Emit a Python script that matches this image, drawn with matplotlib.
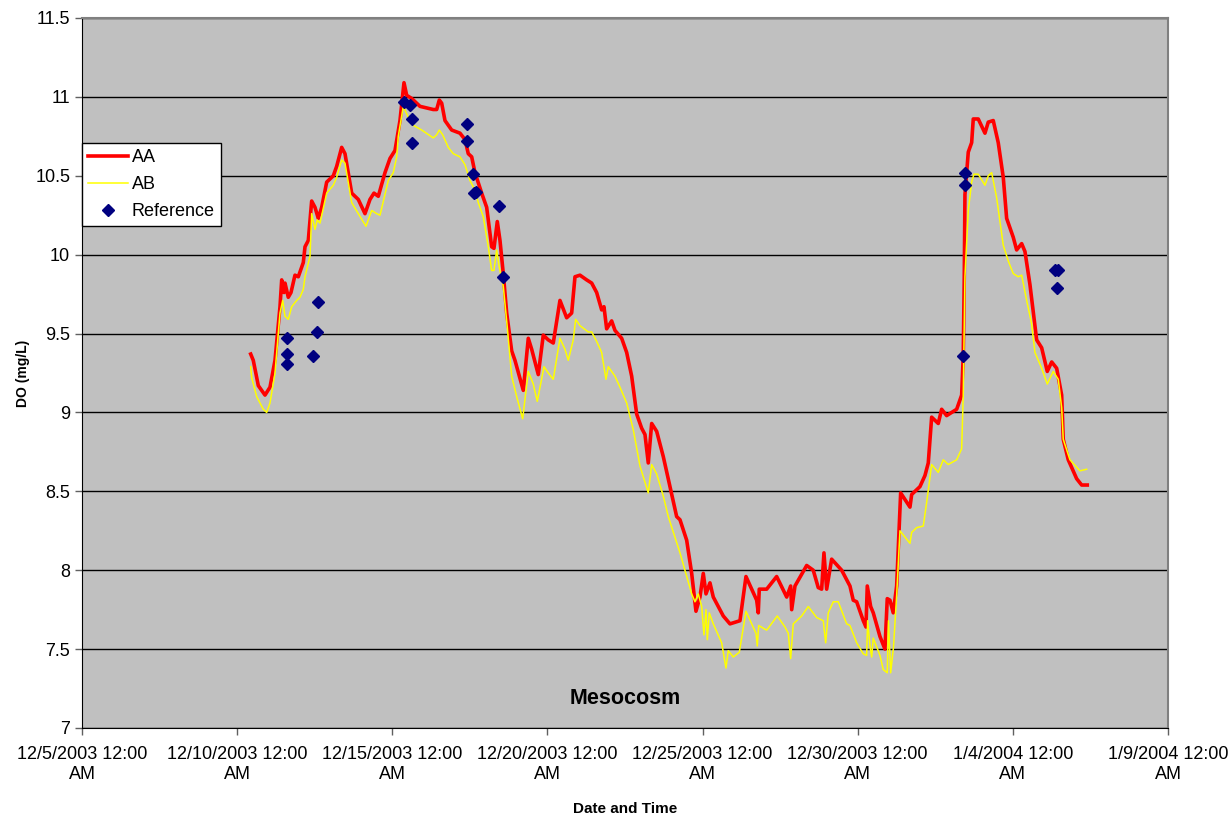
import numpy as np
import pandas as pd
import matplotlib
matplotlib.use('Agg')
import matplotlib.pyplot as plt

# days after 12/5/2003 00:00 and dissolved oxygen (mg/L)
aa_day = [5.437, 5.520, 5.682, 5.898, 6.059, 6.220, 6.381, 6.436, 6.510, 6.542, 6.648, 6.735, 6.864, 6.971,
          7.132, 7.187, 7.293, 7.402, 7.509, 7.615, 7.725, 7.886, 8.099, 8.208, 8.369, 8.476, 8.692, 8.904,
          9.120, 9.281, 9.410, 9.549, 9.765, 9.926, 10.087, 10.248, 10.377, 10.464, 10.625, 10.893, 11.321,
          11.431, 11.515, 11.592, 11.698, 11.914, 12.182, 12.343, 12.449, 12.559, 12.665, 12.881, 13.042,
          13.203, 13.277, 13.384, 13.471, 13.577, 13.687, 13.848, 13.954, 14.222, 14.383, 14.493, 14.705,
          14.866, 15.027, 15.188, 15.404, 15.620, 15.781, 15.888, 16.049, 16.265, 16.426, 16.587, 16.748,
          16.822, 16.909, 17.070, 17.177, 17.393, 17.554, 17.715, 17.876, 18.037, 18.144, 18.250, 18.360,
          18.521, 18.734, 18.949, 19.165, 19.272, 19.488, 19.649, 19.787, 19.916, 20.023, 20.110, 20.238,
          20.345, 20.667, 20.883, 21.205, 21.399, 21.582, 21.744, 21.795, 21.827, 22.066, 22.388, 22.711,
          22.839, 22.872, 22.978, 23.355, 23.567, 23.728, 23.838, 23.912, 23.999, 24.160, 24.483, 24.750,
          24.856, 24.966, 25.179, 25.266, 25.308, 25.417, 25.501, 25.717, 25.878, 25.952, 26.039, 26.145,
          26.255, 26.384, 26.684, 26.739, 27.006, 27.167, 27.274, 27.383, 27.596, 27.705, 27.866, 28.189,
          28.350, 28.401, 28.434, 28.456, 28.563, 28.672, 28.724, 28.885, 29.101, 29.207, 29.368, 29.529,
          29.691, 29.800, 30.013, 30.122, 30.284, 30.390, 30.551, 30.767, 30.928, 31.109, 31.251, 31.412,
          31.573, 31.624, 31.785, 32.056, 32.217, 32.398]
aa_do = [9.37, 9.33, 9.17, 9.11, 9.16, 9.33, 9.67, 9.84, 9.76, 9.82, 9.73, 9.76, 9.87, 9.86,
         9.95, 10.05, 10.09, 10.34, 10.30, 10.23, 10.30, 10.46, 10.50, 10.56, 10.68, 10.64, 10.39, 10.35,
         10.26, 10.35, 10.39, 10.37, 10.52, 10.61, 10.66, 10.85, 11.09, 11.01, 10.99, 10.94, 10.92,
         10.92, 10.98, 10.96, 10.85, 10.79, 10.77, 10.73, 10.64, 10.62, 10.52, 10.39, 10.30,
         10.05, 10.04, 10.21, 10.09, 9.88, 9.63, 9.39, 9.33, 9.14, 9.47, 9.40, 9.24,
         9.49, 9.46, 9.44, 9.71, 9.60, 9.63, 9.86, 9.87, 9.84, 9.82, 9.76, 9.65,
         9.67, 9.53, 9.58, 9.52, 9.47, 9.38, 9.23, 8.99, 8.90, 8.86, 8.68, 8.93,
         8.88, 8.72, 8.53, 8.34, 8.32, 8.19, 7.98, 7.74, 7.83, 7.98, 7.85, 7.92,
         7.83, 7.71, 7.66, 7.68, 7.96, 7.88, 7.81, 7.73, 7.88, 7.88, 7.96, 7.83,
         7.90, 7.75, 7.90, 8.03, 8.00, 7.89, 7.88, 8.11, 7.88, 8.07, 8.00, 7.90,
         7.81, 7.80, 7.68, 7.64, 7.90, 7.77, 7.73, 7.58, 7.50, 7.82, 7.81, 7.73,
         7.90, 8.49, 8.40, 8.48, 8.53, 8.60, 8.68, 8.97, 8.93, 9.02, 8.98, 9.02,
         9.11, 9.36, 9.86, 10.38, 10.65, 10.71, 10.86, 10.86, 10.77, 10.84, 10.85, 10.71,
         10.49, 10.23, 10.11, 10.03, 10.07, 10.02, 9.81, 9.46, 9.41, 9.26, 9.32, 9.28,
         9.11, 8.83, 8.70, 8.58, 8.54, 8.54]

ab_day = [5.437, 5.469, 5.630, 5.843, 5.952, 6.059, 6.220, 6.381, 6.468, 6.542, 6.648, 6.758, 6.919, 7.025,
          7.132, 7.187, 7.348, 7.402, 7.509, 7.583, 7.670, 7.886, 8.099, 8.208, 8.369, 8.476, 8.692, 8.904,
          9.152, 9.336, 9.497, 9.604, 9.871, 10.032, 10.142, 10.193, 10.355, 10.516, 10.677, 10.947, 11.321,
          11.431, 11.515, 11.624, 11.805, 11.966, 12.182, 12.343, 12.504, 12.665, 12.772, 12.933, 13.094,
          13.203, 13.277, 13.364, 13.448, 13.577, 13.706, 13.848, 14.009, 14.202, 14.383, 14.544, 14.673,
          14.889, 15.027, 15.188, 15.404, 15.566, 15.672, 15.833, 15.910, 16.049, 16.317, 16.426, 16.587,
          16.748, 16.887, 16.961, 17.177, 17.338, 17.554, 17.767, 17.983, 18.250, 18.360, 18.521, 18.734,
          18.895, 19.272, 19.488, 19.649, 19.755, 19.861, 19.971, 20.045, 20.110, 20.152, 20.216, 20.345,
          20.615, 20.754, 20.828, 20.989, 21.183, 21.399, 21.582, 21.721, 21.763, 21.808, 22.066, 22.407,
          22.656, 22.762, 22.839, 22.923, 23.194, 23.406, 23.677, 23.890, 23.967, 24.051, 24.212, 24.373,
          24.644, 24.750, 24.966, 25.179, 25.288, 25.320, 25.395, 25.450, 25.501, 25.717, 25.824, 25.952,
          25.991, 26.062, 26.152, 26.255, 26.362, 26.684, 26.739, 26.900, 27.113, 27.222, 27.383, 27.596,
          27.757, 27.918, 28.189, 28.350, 28.401, 28.456, 28.563, 28.672, 28.746, 28.885, 29.101, 29.207,
          29.317, 29.478, 29.691, 29.852, 30.013, 30.174, 30.284, 30.445, 30.606, 30.712, 30.928, 31.109,
          31.302, 31.463, 31.573, 31.624, 31.840, 32.162, 32.378]
ab_do = [9.29, 9.22, 9.10, 9.02, 9.00, 9.06, 9.25, 9.63, 9.71, 9.61, 9.59, 9.67, 9.71, 9.73,
         9.78, 9.86, 9.99, 10.26, 10.16, 10.22, 10.20, 10.39, 10.44, 10.49, 10.60, 10.58, 10.33, 10.26,
         10.18, 10.28, 10.26, 10.25, 10.47, 10.52, 10.62, 10.75, 10.94, 10.87, 10.82, 10.79, 10.74,
         10.76, 10.79, 10.76, 10.68, 10.64, 10.62, 10.57, 10.47, 10.41, 10.33, 10.24, 10.05,
         9.90, 9.90, 10.03, 9.92, 9.80, 9.54, 9.23, 9.10, 8.96, 9.26, 9.18, 9.07,
         9.29, 9.25, 9.21, 9.47, 9.40, 9.33, 9.46, 9.59, 9.55, 9.51, 9.51, 9.45,
         9.38, 9.21, 9.29, 9.23, 9.16, 9.06, 8.89, 8.66, 8.49, 8.67, 8.61, 8.47,
         8.34, 8.11, 7.96, 7.85, 7.80, 7.85, 7.77, 7.59, 7.75, 7.56, 7.73, 7.66,
         7.54, 7.38, 7.49, 7.45, 7.48, 7.74, 7.66, 7.60, 7.52, 7.65, 7.62, 7.71,
         7.64, 7.60, 7.44, 7.66, 7.71, 7.77, 7.70, 7.68, 7.54, 7.73, 7.80, 7.80,
         7.66, 7.65, 7.54, 7.47, 7.46, 7.68, 7.52, 7.45, 7.57, 7.46, 7.37, 7.35,
         7.68, 7.35, 7.51, 7.84, 8.25, 8.17, 8.24, 8.27, 8.28, 8.43, 8.67, 8.62,
         8.70, 8.67, 8.70, 8.77, 9.11, 9.86, 10.28, 10.46, 10.51, 10.51, 10.44, 10.50,
         10.52, 10.36, 10.06, 9.96, 9.88, 9.86, 9.87, 9.71, 9.56, 9.38, 9.28, 9.18,
         9.26, 9.21, 9.03, 8.83, 8.70, 8.63, 8.64]

ref_day = [6.616, 6.616, 6.616, 7.454, 7.564, 7.615, 10.377, 10.570, 10.644, 10.635, 12.417, 12.398,
           12.591, 12.633, 12.697, 13.429, 13.558, 28.456, 28.456, 28.401, 31.366, 31.463, 31.430]
ref_do = [9.47, 9.37, 9.31, 9.36, 9.51, 9.70, 10.97, 10.95, 10.86, 10.71, 10.83, 10.72,
          10.51, 10.39, 10.40, 10.31, 9.86, 10.52, 10.44, 9.36, 9.90, 9.90, 9.79]

tick_dates = ['2003-12-05', '2003-12-10', '2003-12-15', '2003-12-20', '2003-12-25',
              '2003-12-30', '2004-01-04', '2004-01-09']
tick_labels = ['12/5/2003 12:00\nAM', '12/10/2003 12:00\nAM', '12/15/2003 12:00\nAM',
               '12/20/2003 12:00\nAM', '12/25/2003 12:00\nAM', '12/30/2003 12:00\nAM',
               '1/4/2004 12:00\nAM', '1/9/2004 12:00\nAM']

start = pd.Timestamp('2003-12-05')
to_dates = lambda days: start + pd.to_timedelta(np.array(days), unit='D')

plt.rcParams['font.family'] = ['Liberation Sans', 'DejaVu Sans']

fig = plt.figure(figsize=(12.32, 8.19), dpi=100)
ax = fig.add_axes([82 / 1232, 1 - 728 / 819, (1168 - 82) / 1232, (728 - 18) / 819])
ax.set_facecolor('#C0C0C0')

ax.plot(to_dates(aa_day), aa_do, color='#FF0000', lw=2.6, label='AA', zorder=3)
ax.plot(to_dates(ab_day), ab_do, color='#FFFF00', lw=1.1, label='AB', zorder=4)
ax.plot(to_dates(ref_day), ref_do, ls='none', marker='D', ms=6, color='#000080',
        label='Reference', zorder=5)

ax.set_ylim(7, 11.5)
ax.set_yticks(np.arange(7, 11.51, 0.5))
ax.set_yticklabels(['7', '7.5', '8', '8.5', '9', '9.5', '10', '10.5', '11', '11.5'])
ax.set_xlim(pd.Timestamp(tick_dates[0]), pd.Timestamp(tick_dates[-1]))
ax.set_xticks([pd.Timestamp(t) for t in tick_dates])
ax.set_xticklabels(tick_labels)
ax.yaxis.grid(True, color='black', lw=1)
ax.set_axisbelow(True)

ax.tick_params(axis='both', direction='out', length=5, width=1, color='#606060', labelsize=13)
ax.tick_params(axis='x', pad=8)
for side in ['left', 'bottom']:
    ax.spines[side].set_color('black')
for side in ['top', 'right']:
    ax.spines[side].set_color('#808080')
    ax.spines[side].set_linewidth(1.5)

ax.set_ylabel('DO (mg/L)', fontsize=10, fontweight='bold', labelpad=4)
ax.set_xlabel('Date and Time', fontsize=11, fontweight='bold', labelpad=14)
ax.text(0.5, 0.042, 'Mesocosm', transform=ax.transAxes, ha='center', va='center',
        fontsize=15.5, fontweight='bold')

leg = ax.legend(loc='upper left', bbox_to_anchor=(0, (728 - 143) / 710), borderaxespad=0,
                fontsize=13, frameon=True, fancybox=False, framealpha=1, edgecolor='black',
                handlelength=2.2, handletextpad=0.2, labelspacing=0.55, borderpad=0.35)
leg.get_frame().set_linewidth(1)

fig.savefig('out.png', dpi=100)
